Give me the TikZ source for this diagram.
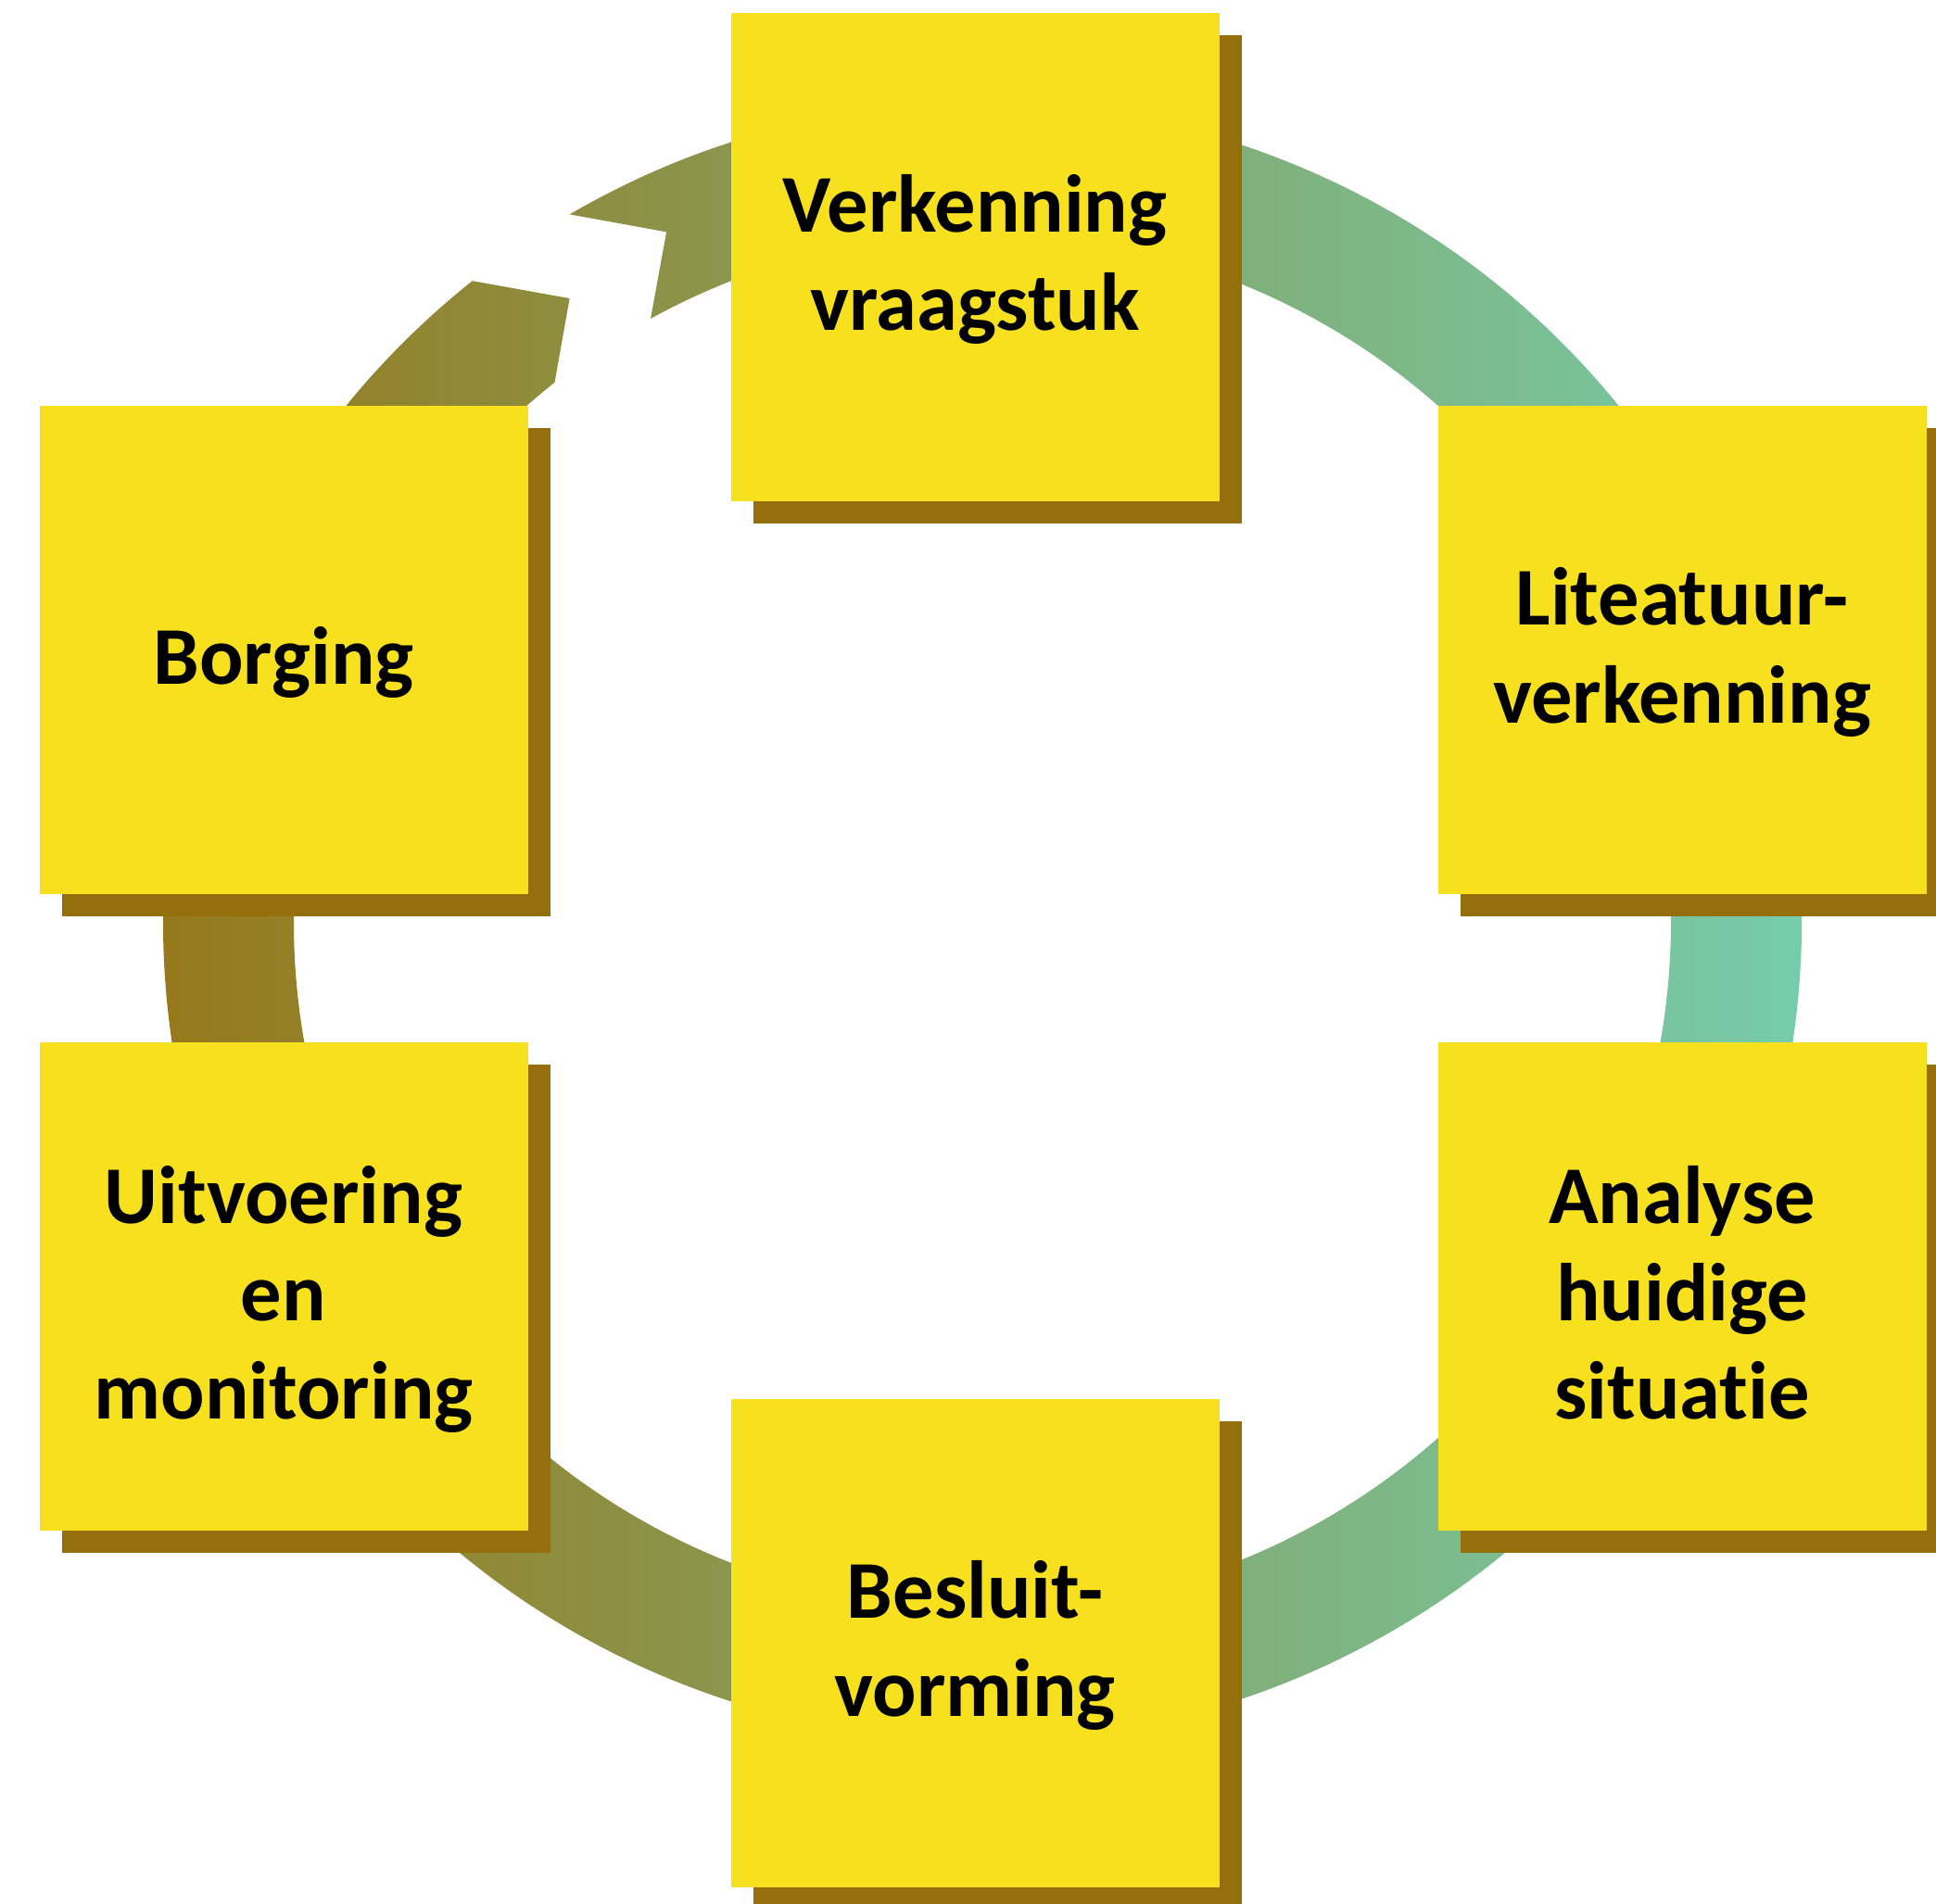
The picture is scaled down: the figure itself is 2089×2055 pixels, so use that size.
\documentclass[tikz,border=0pt]{standalone}
\usepackage{fontspec}
\setmainfont{Carlito}[Ligatures=NoCommon]
\usetikzlibrary{shadows}
\definecolor{ybox}{HTML}{F7E01E}
\definecolor{sbox}{HTML}{946F0C}
\definecolor{ringL}{HTML}{987414}
\definecolor{ringR}{HTML}{73D2B5}
\newcommand\stxt[2]{\raisebox{#1}[0pt][0pt]{\begin{tabular}[t]{@{}c@{}}#2\end{tabular}}}
\tikzset{
  stage/.style={fill=ybox, minimum width=527pt, minimum height=527pt,
    inner sep=0pt, text=black,
    font=\bfseries\fontsize{88.5}{105.5}\selectfont,
    drop shadow={shadow xshift=24pt, shadow yshift=-24pt, opacity=1, fill=sbox}},
  ring/.style={left color=ringL, right color=ringR}
}
\begin{document}
\begin{tikzpicture}[x=1pt,y=1pt]
\useasboundingbox (0,0) rectangle (2089,2055);
\clip (0,0) rectangle (2089,2055);
\begin{scope}[shift={(1060,1060)}]
  \shade[ring] (120.25:884) arc[start angle=120.25, end angle=-231.5, radius=884]
    -- (-236.5:807) -- (-231.6:743)
    arc[start angle=-231.6, end angle=118.8, radius=743]
    -- (114.6:819) -- cycle;
\end{scope}
\node[stage] (verk) at (1052,1777) {\stxt{27pt}{Verkenning\\vraagstuk}};
\node[stage] (lit) at (1815,1353) {\stxt{27pt}{Liteatuur-\\verkenning}};
\node[stage] (ana) at (1815,666) {\stxt{68.5pt}{Analyse\\huidige\\situatie}};
\node[stage] (bes) at (1052,281) {\stxt{27pt}{Besluit-\\vorming}};
\node[stage] (uit) at (306,666) {\stxt{68.5pt}{Uitvoering\\en\\monitoring}};
\node[stage] (bor) at (306,1353) {\stxt{-37pt}{Borging}};
\end{tikzpicture}
\end{document}
